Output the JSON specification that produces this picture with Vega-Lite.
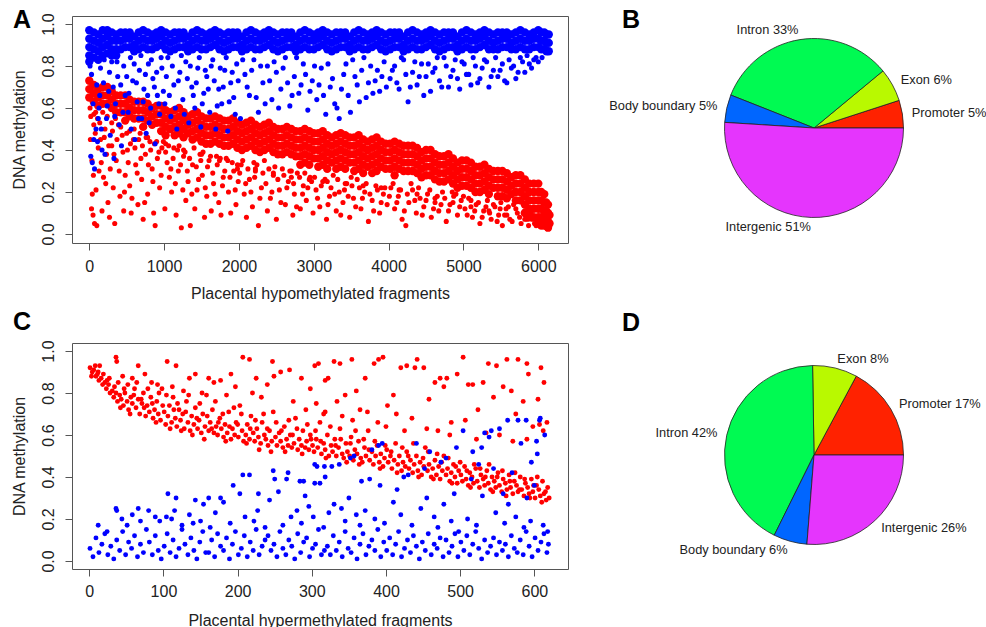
{
"$schema": "https://vega.github.io/schema/vega-lite/v6.json",
"background": "white",
"padding": {"left": 10, "top": 7, "right": 0, "bottom": 0},
"bounds": "flush",
"align": "each",
"columns": 2,
"spacing": {"row": 100, "column": 126},
"config": {
"font": "Liberation Sans",
"view": {"stroke": "#555", "strokeWidth": 1},
"axis": {"domain": false, "grid": false, "tickColor": "#555", "tickSize": 7, "tickWidth": 1, "labelFontSize": 16, "labelColor": "#222", "titleFontSize": 16, "titleFontWeight": "normal", "titleColor": "#222", "labelOverlap": false, "labelFlush": false, "labelBound": false},
"title": {"font": "Liberation Sans", "fontWeight": "bold", "fontSize": 25, "color": "#000", "anchor": "start", "frame": "group", "baseline": "alphabetic"}
},
"datasets": {
"aRc": [
{"x":0,"y":0.73},{"x":0,"y":0.69},{"x":0,"y":0.65},
{"x":120,"y":0.69},{"x":120,"y":0.65},{"x":120,"y":0.61},
{"x":240,"y":0.70},{"x":240,"y":0.66},{"x":240,"y":0.62},
{"x":360,"y":0.66},{"x":360,"y":0.62},{"x":360,"y":0.58},
{"x":480,"y":0.66},{"x":480,"y":0.62},{"x":480,"y":0.58},{"x":480,"y":0.54},
{"x":600,"y":0.63},{"x":600,"y":0.59},{"x":600,"y":0.55},
{"x":720,"y":0.63},{"x":720,"y":0.59},{"x":720,"y":0.55},{"x":720,"y":0.51},
{"x":840,"y":0.60},{"x":840,"y":0.56},{"x":840,"y":0.52},
{"x":960,"y":0.61},{"x":960,"y":0.57},{"x":960,"y":0.53},{"x":960,"y":0.49},
{"x":1080,"y":0.58},{"x":1080,"y":0.54},{"x":1080,"y":0.50},
{"x":1200,"y":0.60},{"x":1200,"y":0.56},{"x":1200,"y":0.52},{"x":1200,"y":0.48},
{"x":1320,"y":0.56},{"x":1320,"y":0.52},{"x":1320,"y":0.48},
{"x":1440,"y":0.58},{"x":1440,"y":0.54},{"x":1440,"y":0.50},{"x":1440,"y":0.46},
{"x":1560,"y":0.55},{"x":1560,"y":0.51},{"x":1560,"y":0.47},{"x":1560,"y":0.43},
{"x":1680,"y":0.56},{"x":1680,"y":0.52},{"x":1680,"y":0.48},{"x":1680,"y":0.44},
{"x":1800,"y":0.54},{"x":1800,"y":0.50},{"x":1800,"y":0.46},{"x":1800,"y":0.42},
{"x":1920,"y":0.55},{"x":1920,"y":0.51},{"x":1920,"y":0.47},{"x":1920,"y":0.43},
{"x":2040,"y":0.52},{"x":2040,"y":0.48},{"x":2040,"y":0.44},{"x":2040,"y":0.40},
{"x":2160,"y":0.54},{"x":2160,"y":0.50},{"x":2160,"y":0.46},{"x":2160,"y":0.42},
{"x":2280,"y":0.51},{"x":2280,"y":0.47},{"x":2280,"y":0.43},{"x":2280,"y":0.39},
{"x":2400,"y":0.53},{"x":2400,"y":0.49},{"x":2400,"y":0.45},{"x":2400,"y":0.41},
{"x":2520,"y":0.50},{"x":2520,"y":0.46},{"x":2520,"y":0.42},{"x":2520,"y":0.38},
{"x":2640,"y":0.51},{"x":2640,"y":0.47},{"x":2640,"y":0.43},{"x":2640,"y":0.39},
{"x":2760,"y":0.49},{"x":2760,"y":0.45},{"x":2760,"y":0.41},{"x":2760,"y":0.37},
{"x":2880,"y":0.50},{"x":2880,"y":0.46},{"x":2880,"y":0.42},{"x":2880,"y":0.38},{"x":2880,"y":0.34},
{"x":3000,"y":0.48},{"x":3000,"y":0.44},{"x":3000,"y":0.40},{"x":3000,"y":0.36},
{"x":3120,"y":0.49},{"x":3120,"y":0.45},{"x":3120,"y":0.41},{"x":3120,"y":0.37},{"x":3120,"y":0.33},
{"x":3240,"y":0.46},{"x":3240,"y":0.42},{"x":3240,"y":0.38},{"x":3240,"y":0.34},
{"x":3360,"y":0.48},{"x":3360,"y":0.44},{"x":3360,"y":0.40},{"x":3360,"y":0.36},{"x":3360,"y":0.32},
{"x":3480,"y":0.46},{"x":3480,"y":0.42},{"x":3480,"y":0.38},{"x":3480,"y":0.34},
{"x":3600,"y":0.47},{"x":3600,"y":0.43},{"x":3600,"y":0.39},{"x":3600,"y":0.35},{"x":3600,"y":0.31},
{"x":3720,"y":0.44},{"x":3720,"y":0.40},{"x":3720,"y":0.36},{"x":3720,"y":0.32},
{"x":3840,"y":0.46},{"x":3840,"y":0.42},{"x":3840,"y":0.38},{"x":3840,"y":0.34},{"x":3840,"y":0.30},
{"x":3960,"y":0.43},{"x":3960,"y":0.39},{"x":3960,"y":0.35},{"x":3960,"y":0.31},
{"x":4080,"y":0.44},{"x":4080,"y":0.40},{"x":4080,"y":0.36},{"x":4080,"y":0.32},{"x":4080,"y":0.28},
{"x":4200,"y":0.42},{"x":4200,"y":0.38},{"x":4200,"y":0.34},{"x":4200,"y":0.30},
{"x":4320,"y":0.42},{"x":4320,"y":0.38},{"x":4320,"y":0.34},{"x":4320,"y":0.30},
{"x":4440,"y":0.39},{"x":4440,"y":0.35},{"x":4440,"y":0.31},{"x":4440,"y":0.27},
{"x":4560,"y":0.40},{"x":4560,"y":0.36},{"x":4560,"y":0.32},{"x":4560,"y":0.28},
{"x":4680,"y":0.37},{"x":4680,"y":0.33},{"x":4680,"y":0.29},{"x":4680,"y":0.25},
{"x":4800,"y":0.38},{"x":4800,"y":0.34},{"x":4800,"y":0.30},{"x":4800,"y":0.26},
{"x":4920,"y":0.34},{"x":4920,"y":0.30},{"x":4920,"y":0.26},{"x":4920,"y":0.22},
{"x":5040,"y":0.35},{"x":5040,"y":0.31},{"x":5040,"y":0.27},{"x":5040,"y":0.23},
{"x":5160,"y":0.32},{"x":5160,"y":0.28},{"x":5160,"y":0.24},{"x":5160,"y":0.20},
{"x":5280,"y":0.33},{"x":5280,"y":0.29},{"x":5280,"y":0.25},{"x":5280,"y":0.21},
{"x":5400,"y":0.30},{"x":5400,"y":0.26},{"x":5400,"y":0.22},
{"x":5520,"y":0.30},{"x":5520,"y":0.26},{"x":5520,"y":0.22},{"x":5520,"y":0.18},
{"x":5640,"y":0.27},{"x":5640,"y":0.23},{"x":5640,"y":0.19},
{"x":5760,"y":0.28},{"x":5760,"y":0.24},{"x":5760,"y":0.20},{"x":5760,"y":0.16},
{"x":5880,"y":0.24},{"x":5880,"y":0.20},{"x":5880,"y":0.16},{"x":5880,"y":0.12},{"x":5880,"y":0.08},
{"x":6000,"y":0.24},{"x":6000,"y":0.20},{"x":6000,"y":0.16},{"x":6000,"y":0.12},{"x":6000,"y":0.08},{"x":6000,"y":0.05},
{"x":6080,"y":0.19},{"x":6080,"y":0.15},{"x":6080,"y":0.11},{"x":6080,"y":0.07},{"x":6080,"y":0.04},
{"x":6130,"y":0.14},{"x":6130,"y":0.10},{"x":6130,"y":0.06},{"x":6130,"y":0.03},
{"x":6150,"y":0.09},{"x":6150,"y":0.05},
{"x":60,"y":0.71},{"x":60,"y":0.67},{"x":60,"y":0.63},
{"x":180,"y":0.70},{"x":180,"y":0.66},{"x":180,"y":0.62},
{"x":300,"y":0.68},{"x":300,"y":0.64},{"x":300,"y":0.60},
{"x":420,"y":0.66},{"x":420,"y":0.62},{"x":420,"y":0.58},
{"x":540,"y":0.64},{"x":540,"y":0.60},{"x":540,"y":0.56},
{"x":660,"y":0.63},{"x":660,"y":0.59},{"x":660,"y":0.55},
{"x":780,"y":0.62},{"x":780,"y":0.58},{"x":780,"y":0.54},
{"x":900,"y":0.61},{"x":900,"y":0.57},{"x":900,"y":0.53},
{"x":1020,"y":0.59},{"x":1020,"y":0.55},{"x":1020,"y":0.51},{"x":1020,"y":0.47},
{"x":1140,"y":0.59},{"x":1140,"y":0.55},{"x":1140,"y":0.51},{"x":1140,"y":0.47},
{"x":1260,"y":0.58},{"x":1260,"y":0.54},{"x":1260,"y":0.50},{"x":1260,"y":0.46},
{"x":1380,"y":0.57},{"x":1380,"y":0.53},{"x":1380,"y":0.49},{"x":1380,"y":0.45},
{"x":1500,"y":0.56},{"x":1500,"y":0.52},{"x":1500,"y":0.48},{"x":1500,"y":0.44},
{"x":1620,"y":0.55},{"x":1620,"y":0.51},{"x":1620,"y":0.47},{"x":1620,"y":0.43},
{"x":1740,"y":0.55},{"x":1740,"y":0.51},{"x":1740,"y":0.47},{"x":1740,"y":0.43},
{"x":1860,"y":0.54},{"x":1860,"y":0.50},{"x":1860,"y":0.46},{"x":1860,"y":0.42},
{"x":1980,"y":0.53},{"x":1980,"y":0.49},{"x":1980,"y":0.45},{"x":1980,"y":0.41},
{"x":2100,"y":0.53},{"x":2100,"y":0.49},{"x":2100,"y":0.45},{"x":2100,"y":0.41},
{"x":2220,"y":0.52},{"x":2220,"y":0.48},{"x":2220,"y":0.44},{"x":2220,"y":0.40},
{"x":2340,"y":0.52},{"x":2340,"y":0.48},{"x":2340,"y":0.44},{"x":2340,"y":0.40},
{"x":2460,"y":0.51},{"x":2460,"y":0.47},{"x":2460,"y":0.43},{"x":2460,"y":0.39},
{"x":2580,"y":0.50},{"x":2580,"y":0.46},{"x":2580,"y":0.42},{"x":2580,"y":0.38},
{"x":2700,"y":0.50},{"x":2700,"y":0.46},{"x":2700,"y":0.42},{"x":2700,"y":0.38},
{"x":2820,"y":0.49},{"x":2820,"y":0.45},{"x":2820,"y":0.41},{"x":2820,"y":0.37},{"x":2820,"y":0.33},
{"x":2940,"y":0.49},{"x":2940,"y":0.45},{"x":2940,"y":0.41},{"x":2940,"y":0.37},{"x":2940,"y":0.33},
{"x":3060,"y":0.48},{"x":3060,"y":0.44},{"x":3060,"y":0.40},{"x":3060,"y":0.36},{"x":3060,"y":0.32},
{"x":3180,"y":0.47},{"x":3180,"y":0.43},{"x":3180,"y":0.39},{"x":3180,"y":0.35},{"x":3180,"y":0.31},
{"x":3300,"y":0.47},{"x":3300,"y":0.43},{"x":3300,"y":0.39},{"x":3300,"y":0.35},{"x":3300,"y":0.31},
{"x":3420,"y":0.47},{"x":3420,"y":0.43},{"x":3420,"y":0.39},{"x":3420,"y":0.35},{"x":3420,"y":0.31},
{"x":3540,"y":0.46},{"x":3540,"y":0.42},{"x":3540,"y":0.38},{"x":3540,"y":0.34},{"x":3540,"y":0.30},
{"x":3660,"y":0.45},{"x":3660,"y":0.41},{"x":3660,"y":0.37},{"x":3660,"y":0.33},{"x":3660,"y":0.29},
{"x":3780,"y":0.45},{"x":3780,"y":0.41},{"x":3780,"y":0.37},{"x":3780,"y":0.33},{"x":3780,"y":0.29},
{"x":3900,"y":0.44},{"x":3900,"y":0.40},{"x":3900,"y":0.36},{"x":3900,"y":0.32},
{"x":4020,"y":0.43},{"x":4020,"y":0.39},{"x":4020,"y":0.35},{"x":4020,"y":0.31},
{"x":4140,"y":0.43},{"x":4140,"y":0.39},{"x":4140,"y":0.35},{"x":4140,"y":0.31},
{"x":4260,"y":0.42},{"x":4260,"y":0.38},{"x":4260,"y":0.34},{"x":4260,"y":0.30},
{"x":4380,"y":0.41},{"x":4380,"y":0.37},{"x":4380,"y":0.33},{"x":4380,"y":0.29},
{"x":4500,"y":0.40},{"x":4500,"y":0.36},{"x":4500,"y":0.32},{"x":4500,"y":0.28},
{"x":4620,"y":0.38},{"x":4620,"y":0.34},{"x":4620,"y":0.30},{"x":4620,"y":0.26},
{"x":4740,"y":0.37},{"x":4740,"y":0.33},{"x":4740,"y":0.29},{"x":4740,"y":0.25},
{"x":4860,"y":0.36},{"x":4860,"y":0.32},{"x":4860,"y":0.28},{"x":4860,"y":0.24},
{"x":4980,"y":0.35},{"x":4980,"y":0.31},{"x":4980,"y":0.27},{"x":4980,"y":0.23},
{"x":5100,"y":0.34},{"x":5100,"y":0.30},{"x":5100,"y":0.26},{"x":5100,"y":0.22},
{"x":5220,"y":0.32},{"x":5220,"y":0.28},{"x":5220,"y":0.24},{"x":5220,"y":0.20},
{"x":5340,"y":0.31},{"x":5340,"y":0.27},{"x":5340,"y":0.23},{"x":5340,"y":0.19},
{"x":5460,"y":0.30},{"x":5460,"y":0.26},{"x":5460,"y":0.22},{"x":5460,"y":0.18},
{"x":5580,"y":0.29},{"x":5580,"y":0.25},{"x":5580,"y":0.21},{"x":5580,"y":0.17},
{"x":5700,"y":0.28},{"x":5700,"y":0.24},{"x":5700,"y":0.20},{"x":5700,"y":0.16},
{"x":5820,"y":0.26},{"x":5820,"y":0.22},{"x":5820,"y":0.18},{"x":5820,"y":0.14},{"x":5820,"y":0.10},
{"x":5940,"y":0.24},{"x":5940,"y":0.20},{"x":5940,"y":0.16},{"x":5940,"y":0.12},{"x":5940,"y":0.08},
{"x":6040,"y":0.20},{"x":6040,"y":0.16},{"x":6040,"y":0.12},{"x":6040,"y":0.08},{"x":6040,"y":0.04},
{"x":6105,"y":0.15},{"x":6105,"y":0.11},{"x":6105,"y":0.07},{"x":6105,"y":0.04}
],
"aRs": [
{"x":10,"y":0.6},{"x":20,"y":0.56},{"x":30,"y":0.12},{"x":40,"y":0.19},{"x":50,"y":0.09},{"x":60,"y":0.52},{"x":70,"y":0.05},{"x":80,"y":0.48},{"x":90,"y":0.21},{"x":100,"y":0.04},{"x":110,"y":0.55},{"x":130,"y":0.3},{"x":150,"y":0.45},{"x":170,"y":0.11},{"x":190,"y":0.27},{"x":210,"y":0.5},{"x":230,"y":0.38},{"x":250,"y":0.15},{"x":270,"y":0.08},{"x":300,"y":0.42},{"x":320,"y":0.22},{"x":340,"y":0.05},{"x":350,"y":0.55},{"x":360,"y":0.35},{"x":390,"y":0.52},{"x":410,"y":0.18},{"x":440,"y":0.47},{"x":460,"y":0.11},{"x":480,"y":0.28},{"x":510,"y":0.4},{"x":540,"y":0.23},{"x":560,"y":0.1},{"x":590,"y":0.45},{"x":600,"y":0.5},{"x":620,"y":0.33},{"x":650,"y":0.14},{"x":680,"y":0.48},{"x":700,"y":0.26},{"x":720,"y":0.07},{"x":750,"y":0.38},{"x":780,"y":0.19},{"x":810,"y":0.44},{"x":840,"y":0.31},{"x":860,"y":0.1},{"x":880,"y":0.04},{"x":900,"y":0.44},{"x":910,"y":0.36},{"x":940,"y":0.22},{"x":970,"y":0.41},
{"x":1010,"y":0.12},{"x":1040,"y":0.34},{"x":1070,"y":0.27},{"x":1100,"y":0.2},{"x":1130,"y":0.41},{"x":1160,"y":0.09},{"x":1190,"y":0.3},{"x":1200,"y":0.42},{"x":1230,"y":0.03},{"x":1260,"y":0.37},{"x":1290,"y":0.16},{"x":1320,"y":0.25},{"x":1350,"y":0.04},{"x":1380,"y":0.33},{"x":1410,"y":0.12},{"x":1440,"y":0.21},{"x":1480,"y":0.38},{"x":1510,"y":0.28},{"x":1540,"y":0.08},{"x":1570,"y":0.18},{"x":1600,"y":0.35},{"x":1630,"y":0.11},{"x":1660,"y":0.24},{"x":1700,"y":0.37},{"x":1730,"y":0.15},{"x":1760,"y":0.09},{"x":1790,"y":0.27},{"x":1830,"y":0.36},{"x":1860,"y":0.2},{"x":1890,"y":0.1},{"x":1930,"y":0.3},{"x":1960,"y":0.14},{"x":1990,"y":0.25},
{"x":2030,"y":0.33},{"x":2070,"y":0.19},{"x":2100,"y":0.08},{"x":2140,"y":0.26},{"x":2180,"y":0.13},{"x":2200,"y":0.34},{"x":2220,"y":0.3},{"x":2260,"y":0.04},{"x":2300,"y":0.22},{"x":2340,"y":0.35},{"x":2380,"y":0.11},{"x":2420,"y":0.17},{"x":2460,"y":0.28},{"x":2500,"y":0.07},{"x":2540,"y":0.21},{"x":2580,"y":0.31},{"x":2620,"y":0.14},{"x":2660,"y":0.25},{"x":2700,"y":0.3},{"x":2720,"y":0.09},{"x":2740,"y":0.19},{"x":2780,"y":0.29},{"x":2820,"y":0.12},{"x":2860,"y":0.23},{"x":2900,"y":0.16},{"x":2950,"y":0.27},{"x":2990,"y":0.1},
{"x":3030,"y":0.21},{"x":3080,"y":0.13},{"x":3120,"y":0.25},{"x":3170,"y":0.07},{"x":3210,"y":0.18},{"x":3260,"y":0.28},{"x":3300,"y":0.11},{"x":3340,"y":0.2},{"x":3390,"y":0.15},{"x":3440,"y":0.24},{"x":3480,"y":0.08},{"x":3500,"y":0.27},{"x":3530,"y":0.17},{"x":3580,"y":0.26},{"x":3630,"y":0.12},{"x":3680,"y":0.2},{"x":3730,"y":0.06},{"x":3780,"y":0.16},{"x":3830,"y":0.23},{"x":3880,"y":0.1},{"x":3930,"y":0.19},{"x":3980,"y":0.14},
{"x":4030,"y":0.22},{"x":4080,"y":0.12},{"x":4130,"y":0.18},{"x":4180,"y":0.07},{"x":4230,"y":0.04},{"x":4270,"y":0.15},{"x":4300,"y":0.24},{"x":4320,"y":0.21},{"x":4370,"y":0.1},{"x":4420,"y":0.17},{"x":4470,"y":0.13},{"x":4520,"y":0.19},{"x":4570,"y":0.08},{"x":4620,"y":0.15},{"x":4670,"y":0.11},{"x":4720,"y":0.2},{"x":4770,"y":0.06},{"x":4820,"y":0.14},{"x":4870,"y":0.18},{"x":4900,"y":0.19},{"x":4920,"y":0.09},{"x":4970,"y":0.16},
{"x":5020,"y":0.12},{"x":5070,"y":0.17},{"x":5120,"y":0.08},{"x":5170,"y":0.14},{"x":5220,"y":0.05},{"x":5270,"y":0.11},{"x":5320,"y":0.16},{"x":5370,"y":0.07},{"x":5420,"y":0.13},{"x":5470,"y":0.09},{"x":5500,"y":0.15},{"x":5520,"y":0.04},{"x":5570,"y":0.12},{"x":5620,"y":0.07},{"x":5670,"y":0.14},{"x":5720,"y":0.1},{"x":5770,"y":0.05},{"x":5820,"y":0.11},{"x":5870,"y":0.04},{"x":5920,"y":0.07},{"x":5970,"y":0.04},
{"x":60,"y":0.57},{"x":300,"y":0.53},{"x":540,"y":0.49},{"x":780,"y":0.46},{"x":1020,"y":0.43},{"x":1260,"y":0.4},{"x":1500,"y":0.38},{"x":1740,"y":0.35},{"x":1980,"y":0.33},{"x":2220,"y":0.31},{"x":2460,"y":0.29},{"x":2700,"y":0.27},{"x":2940,"y":0.26},{"x":3180,"y":0.25},{"x":3420,"y":0.24},{"x":3660,"y":0.23},{"x":3900,"y":0.22},{"x":4140,"y":0.21},{"x":4380,"y":0.19},{"x":4620,"y":0.17},{"x":4860,"y":0.15},{"x":5100,"y":0.13},{"x":5340,"y":0.11},{"x":5580,"y":0.09},{"x":5820,"y":0.07},
{"x":15,"y":0.45},{"x":35,"y":0.35},{"x":55,"y":0.28},{"x":85,"y":0.58},{"x":120,"y":0.41},{"x":140,"y":0.53},{"x":160,"y":0.34},{"x":180,"y":0.58},{"x":200,"y":0.46},{"x":220,"y":0.24},{"x":240,"y":0.56},{"x":260,"y":0.42},{"x":280,"y":0.31},{"x":310,"y":0.49},{"x":330,"y":0.38},{"x":370,"y":0.45},{"x":400,"y":0.3},{"x":420,"y":0.51},{"x":450,"y":0.39},{"x":470,"y":0.2},{"x":500,"y":0.48},{"x":520,"y":0.34},{"x":550,"y":0.43},{"x":570,"y":0.17},{"x":610,"y":0.41},{"x":640,"y":0.29},{"x":660,"y":0.45},{"x":690,"y":0.36},{"x":710,"y":0.42},{"x":740,"y":0.15},{"x":760,"y":0.46},{"x":790,"y":0.33},{"x":820,"y":0.4},{"x":850,"y":0.25},{"x":870,"y":0.43},{"x":930,"y":0.39},{"x":960,"y":0.28},{"x":990,"y":0.44},
{"x":1020,"y":0.39},{"x":1060,"y":0.42},{"x":1090,"y":0.31},{"x":1120,"y":0.36},{"x":1150,"y":0.24},{"x":1180,"y":0.4},{"x":1220,"y":0.33},{"x":1250,"y":0.21},{"x":1280,"y":0.39},{"x":1310,"y":0.3},{"x":1340,"y":0.36},{"x":1370,"y":0.19},{"x":1400,"y":0.41},{"x":1430,"y":0.32},{"x":1460,"y":0.26},{"x":1490,"y":0.35},{"x":1520,"y":0.39},{"x":1550,"y":0.22},{"x":1580,"y":0.32},{"x":1620,"y":0.37},{"x":1650,"y":0.29},{"x":1680,"y":0.19},{"x":1710,"y":0.33},{"x":1750,"y":0.36},{"x":1780,"y":0.23},{"x":1810,"y":0.3},{"x":1850,"y":0.35},{"x":1880,"y":0.27},{"x":1910,"y":0.34},{"x":1950,"y":0.21},{"x":1980,"y":0.31},
{"x":2010,"y":0.29},{"x":2050,"y":0.35},{"x":2090,"y":0.24},{"x":2120,"y":0.31},{"x":2160,"y":0.2},{"x":2210,"y":0.27},{"x":2240,"y":0.33},{"x":2280,"y":0.17},{"x":2320,"y":0.29},{"x":2360,"y":0.24},{"x":2400,"y":0.31},{"x":2440,"y":0.2},{"x":2480,"y":0.32},{"x":2520,"y":0.26},{"x":2560,"y":0.15},{"x":2600,"y":0.28},{"x":2640,"y":0.22},{"x":2680,"y":0.3},{"x":2730,"y":0.24},{"x":2770,"y":0.13},{"x":2810,"y":0.27},{"x":2850,"y":0.19},{"x":2880,"y":0.29},{"x":2920,"y":0.22},{"x":2970,"y":0.25},
{"x":3010,"y":0.27},{"x":3050,"y":0.17},{"x":3100,"y":0.23},{"x":3150,"y":0.26},{"x":3190,"y":0.14},{"x":3230,"y":0.22},{"x":3280,"y":0.19},{"x":3320,"y":0.26},{"x":3360,"y":0.09},{"x":3410,"y":0.21},{"x":3460,"y":0.18},{"x":3510,"y":0.23},{"x":3560,"y":0.13},{"x":3610,"y":0.22},{"x":3650,"y":0.17},{"x":3700,"y":0.24},{"x":3750,"y":0.19},{"x":3800,"y":0.11},{"x":3850,"y":0.21},{"x":3900,"y":0.15},{"x":3950,"y":0.22},
{"x":4010,"y":0.18},{"x":4060,"y":0.24},{"x":4110,"y":0.15},{"x":4160,"y":0.21},{"x":4210,"y":0.11},{"x":4250,"y":0.19},{"x":4350,"y":0.16},{"x":4400,"y":0.22},{"x":4450,"y":0.09},{"x":4500,"y":0.16},{"x":4550,"y":0.21},{"x":4600,"y":0.12},{"x":4650,"y":0.18},{"x":4700,"y":0.14},{"x":4750,"y":0.17},{"x":4800,"y":0.11},{"x":4850,"y":0.2},{"x":4950,"y":0.13},
{"x":5000,"y":0.18},{"x":5050,"y":0.09},{"x":5100,"y":0.16},{"x":5150,"y":0.11},{"x":5200,"y":0.15},{"x":5250,"y":0.08},{"x":5300,"y":0.13},{"x":5350,"y":0.1},{"x":5400,"y":0.14},{"x":5450,"y":0.06},{"x":5490,"y":0.12},{"x":5550,"y":0.09},{"x":5600,"y":0.13},{"x":5650,"y":0.06},{"x":5700,"y":0.12},{"x":5750,"y":0.08},{"x":5800,"y":0.1},{"x":5850,"y":0.07},{"x":5900,"y":0.1},{"x":5950,"y":0.05}
],
"aBc": [
{"x":0,"y":0.97},{"x":0,"y":0.93},{"x":0,"y":0.89},{"x":0,"y":0.85},{"x":0,"y":0.82},
{"x":120,"y":0.95},{"x":120,"y":0.91},{"x":120,"y":0.87},{"x":120,"y":0.83},
{"x":240,"y":0.97},{"x":240,"y":0.94},{"x":240,"y":0.90},{"x":240,"y":0.86},
{"x":360,"y":0.95},{"x":360,"y":0.92},{"x":360,"y":0.88},{"x":360,"y":0.85},
{"x":480,"y":0.96},{"x":480,"y":0.93},{"x":480,"y":0.89},
{"x":600,"y":0.94},{"x":600,"y":0.90},{"x":600,"y":0.87},
{"x":720,"y":0.97},{"x":720,"y":0.93},{"x":720,"y":0.89},
{"x":840,"y":0.95},{"x":840,"y":0.92},{"x":840,"y":0.88},
{"x":960,"y":0.97},{"x":960,"y":0.94},{"x":960,"y":0.90},
{"x":1080,"y":0.95},{"x":1080,"y":0.91},{"x":1080,"y":0.87},
{"x":1200,"y":0.96},{"x":1200,"y":0.93},{"x":1200,"y":0.89},
{"x":1320,"y":0.94},{"x":1320,"y":0.90},{"x":1320,"y":0.87},
{"x":1440,"y":0.97},{"x":1440,"y":0.93},{"x":1440,"y":0.89},
{"x":1560,"y":0.95},{"x":1560,"y":0.92},{"x":1560,"y":0.88},
{"x":1680,"y":0.97},{"x":1680,"y":0.94},{"x":1680,"y":0.90},
{"x":1800,"y":0.95},{"x":1800,"y":0.91},{"x":1800,"y":0.87},
{"x":1920,"y":0.96},{"x":1920,"y":0.93},{"x":1920,"y":0.89},
{"x":2040,"y":0.94},{"x":2040,"y":0.90},{"x":2040,"y":0.87},
{"x":2160,"y":0.97},{"x":2160,"y":0.93},{"x":2160,"y":0.89},
{"x":2280,"y":0.95},{"x":2280,"y":0.92},{"x":2280,"y":0.88},
{"x":2400,"y":0.97},{"x":2400,"y":0.94},{"x":2400,"y":0.90},
{"x":2520,"y":0.95},{"x":2520,"y":0.91},{"x":2520,"y":0.87},
{"x":2640,"y":0.96},{"x":2640,"y":0.93},{"x":2640,"y":0.89},
{"x":2760,"y":0.94},{"x":2760,"y":0.90},{"x":2760,"y":0.87},
{"x":2880,"y":0.97},{"x":2880,"y":0.93},{"x":2880,"y":0.89},
{"x":3000,"y":0.95},{"x":3000,"y":0.92},{"x":3000,"y":0.88},
{"x":3120,"y":0.97},{"x":3120,"y":0.94},{"x":3120,"y":0.90},
{"x":3240,"y":0.95},{"x":3240,"y":0.91},{"x":3240,"y":0.87},
{"x":3360,"y":0.96},{"x":3360,"y":0.93},{"x":3360,"y":0.89},
{"x":3480,"y":0.94},{"x":3480,"y":0.90},{"x":3480,"y":0.87},
{"x":3600,"y":0.97},{"x":3600,"y":0.93},{"x":3600,"y":0.89},
{"x":3720,"y":0.95},{"x":3720,"y":0.92},{"x":3720,"y":0.88},
{"x":3840,"y":0.97},{"x":3840,"y":0.94},{"x":3840,"y":0.90},
{"x":3960,"y":0.95},{"x":3960,"y":0.91},{"x":3960,"y":0.87},
{"x":4080,"y":0.96},{"x":4080,"y":0.93},{"x":4080,"y":0.89},
{"x":4200,"y":0.94},{"x":4200,"y":0.90},{"x":4200,"y":0.87},
{"x":4320,"y":0.97},{"x":4320,"y":0.93},{"x":4320,"y":0.89},
{"x":4440,"y":0.95},{"x":4440,"y":0.92},{"x":4440,"y":0.88},
{"x":4560,"y":0.97},{"x":4560,"y":0.94},{"x":4560,"y":0.90},
{"x":4680,"y":0.95},{"x":4680,"y":0.91},{"x":4680,"y":0.87},
{"x":4800,"y":0.96},{"x":4800,"y":0.93},{"x":4800,"y":0.89},
{"x":4920,"y":0.94},{"x":4920,"y":0.90},{"x":4920,"y":0.87},
{"x":5040,"y":0.97},{"x":5040,"y":0.93},{"x":5040,"y":0.89},
{"x":5160,"y":0.95},{"x":5160,"y":0.92},{"x":5160,"y":0.88},
{"x":5280,"y":0.97},{"x":5280,"y":0.94},{"x":5280,"y":0.90},
{"x":5400,"y":0.95},{"x":5400,"y":0.91},{"x":5400,"y":0.88},
{"x":5520,"y":0.96},{"x":5520,"y":0.93},{"x":5520,"y":0.89},
{"x":5640,"y":0.95},{"x":5640,"y":0.91},{"x":5640,"y":0.88},
{"x":5760,"y":0.97},{"x":5760,"y":0.93},{"x":5760,"y":0.89},
{"x":5880,"y":0.95},{"x":5880,"y":0.92},{"x":5880,"y":0.88},
{"x":6000,"y":0.97},{"x":6000,"y":0.93},{"x":6000,"y":0.89},
{"x":6080,"y":0.96},{"x":6080,"y":0.92},{"x":6080,"y":0.88},
{"x":6140,"y":0.95},{"x":6140,"y":0.91},{"x":6140,"y":0.87},
{"x":60,"y":0.96},{"x":60,"y":0.92},{"x":60,"y":0.88},{"x":60,"y":0.84},
{"x":180,"y":0.97},{"x":180,"y":0.93},{"x":180,"y":0.89},{"x":180,"y":0.85},
{"x":300,"y":0.96},{"x":300,"y":0.92},{"x":300,"y":0.88},{"x":300,"y":0.85},
{"x":420,"y":0.96},{"x":420,"y":0.92},{"x":420,"y":0.88},
{"x":540,"y":0.96},{"x":540,"y":0.93},{"x":540,"y":0.89},
{"x":660,"y":0.96},{"x":660,"y":0.92},{"x":660,"y":0.88},
{"x":780,"y":0.96},{"x":780,"y":0.92},{"x":780,"y":0.88},
{"x":900,"y":0.96},{"x":900,"y":0.93},{"x":900,"y":0.89},
{"x":1020,"y":0.96},{"x":1020,"y":0.92},{"x":1020,"y":0.88},
{"x":1140,"y":0.96},{"x":1140,"y":0.92},{"x":1140,"y":0.88},
{"x":1260,"y":0.96},{"x":1260,"y":0.93},{"x":1260,"y":0.89},
{"x":1380,"y":0.96},{"x":1380,"y":0.92},{"x":1380,"y":0.88},
{"x":1500,"y":0.96},{"x":1500,"y":0.92},{"x":1500,"y":0.88},
{"x":1620,"y":0.96},{"x":1620,"y":0.93},{"x":1620,"y":0.89},
{"x":1740,"y":0.96},{"x":1740,"y":0.92},{"x":1740,"y":0.88},
{"x":1860,"y":0.96},{"x":1860,"y":0.92},{"x":1860,"y":0.88},
{"x":1980,"y":0.96},{"x":1980,"y":0.93},{"x":1980,"y":0.89},
{"x":2100,"y":0.96},{"x":2100,"y":0.92},{"x":2100,"y":0.88},
{"x":2220,"y":0.96},{"x":2220,"y":0.92},{"x":2220,"y":0.88},
{"x":2340,"y":0.96},{"x":2340,"y":0.93},{"x":2340,"y":0.89},
{"x":2460,"y":0.96},{"x":2460,"y":0.92},{"x":2460,"y":0.88},
{"x":2580,"y":0.96},{"x":2580,"y":0.92},{"x":2580,"y":0.88},
{"x":2700,"y":0.96},{"x":2700,"y":0.93},{"x":2700,"y":0.89},
{"x":2820,"y":0.96},{"x":2820,"y":0.92},{"x":2820,"y":0.88},
{"x":2940,"y":0.96},{"x":2940,"y":0.92},{"x":2940,"y":0.88},
{"x":3060,"y":0.96},{"x":3060,"y":0.93},{"x":3060,"y":0.89},
{"x":3180,"y":0.96},{"x":3180,"y":0.92},{"x":3180,"y":0.88},
{"x":3300,"y":0.96},{"x":3300,"y":0.92},{"x":3300,"y":0.88},
{"x":3420,"y":0.96},{"x":3420,"y":0.93},{"x":3420,"y":0.89},
{"x":3540,"y":0.96},{"x":3540,"y":0.92},{"x":3540,"y":0.88},
{"x":3660,"y":0.96},{"x":3660,"y":0.92},{"x":3660,"y":0.88},
{"x":3780,"y":0.96},{"x":3780,"y":0.93},{"x":3780,"y":0.89},
{"x":3900,"y":0.96},{"x":3900,"y":0.92},{"x":3900,"y":0.88},
{"x":4020,"y":0.96},{"x":4020,"y":0.92},{"x":4020,"y":0.88},
{"x":4140,"y":0.96},{"x":4140,"y":0.93},{"x":4140,"y":0.89},
{"x":4260,"y":0.96},{"x":4260,"y":0.92},{"x":4260,"y":0.88},
{"x":4380,"y":0.96},{"x":4380,"y":0.92},{"x":4380,"y":0.88},
{"x":4500,"y":0.96},{"x":4500,"y":0.93},{"x":4500,"y":0.89},
{"x":4620,"y":0.96},{"x":4620,"y":0.92},{"x":4620,"y":0.88},
{"x":4740,"y":0.96},{"x":4740,"y":0.92},{"x":4740,"y":0.88},
{"x":4860,"y":0.96},{"x":4860,"y":0.93},{"x":4860,"y":0.89},
{"x":4980,"y":0.96},{"x":4980,"y":0.92},{"x":4980,"y":0.88},
{"x":5100,"y":0.96},{"x":5100,"y":0.92},{"x":5100,"y":0.88},
{"x":5220,"y":0.96},{"x":5220,"y":0.93},{"x":5220,"y":0.89},
{"x":5340,"y":0.96},{"x":5340,"y":0.92},{"x":5340,"y":0.88},
{"x":5460,"y":0.96},{"x":5460,"y":0.92},{"x":5460,"y":0.88},
{"x":5580,"y":0.96},{"x":5580,"y":0.93},{"x":5580,"y":0.89},
{"x":5700,"y":0.96},{"x":5700,"y":0.92},{"x":5700,"y":0.88},
{"x":5820,"y":0.96},{"x":5820,"y":0.92},{"x":5820,"y":0.88},
{"x":5940,"y":0.96},{"x":5940,"y":0.93},{"x":5940,"y":0.89},
{"x":6040,"y":0.96},{"x":6040,"y":0.92},{"x":6040,"y":0.88},
{"x":6110,"y":0.95},{"x":6110,"y":0.91},{"x":6110,"y":0.87}
],
"aBs": [
{"x":20,"y":0.37},{"x":40,"y":0.34},{"x":60,"y":0.45},{"x":70,"y":0.31},{"x":90,"y":0.5},{"x":110,"y":0.44},{"x":130,"y":0.6},{"x":150,"y":0.79},{"x":170,"y":0.4},{"x":190,"y":0.72},{"x":210,"y":0.38},{"x":230,"y":0.55},{"x":260,"y":0.68},{"x":280,"y":0.47},{"x":300,"y":0.82},{"x":330,"y":0.36},{"x":350,"y":0.62},{"x":380,"y":0.75},{"x":400,"y":0.52},{"x":430,"y":0.42},{"x":460,"y":0.8},{"x":480,"y":0.66},
{"x":520,"y":0.58},{"x":550,"y":0.84},{"x":580,"y":0.73},{"x":610,"y":0.45},{"x":640,"y":0.63},{"x":670,"y":0.78},{"x":700,"y":0.55},{"x":730,"y":0.69},{"x":760,"y":0.48},{"x":790,"y":0.81},{"x":820,"y":0.6},{"x":850,"y":0.74},{"x":880,"y":0.43},{"x":910,"y":0.66},{"x":940,"y":0.57},{"x":970,"y":0.79},
{"x":1010,"y":0.62},{"x":1050,"y":0.84},{"x":1090,"y":0.56},{"x":1130,"y":0.71},{"x":1170,"y":0.5},{"x":1210,"y":0.77},{"x":1250,"y":0.64},{"x":1290,"y":0.82},{"x":1330,"y":0.53},{"x":1370,"y":0.7},{"x":1410,"y":0.6},{"x":1450,"y":0.79},{"x":1490,"y":0.51},{"x":1530,"y":0.67},{"x":1570,"y":0.75},{"x":1610,"y":0.58},{"x":1650,"y":0.83},{"x":1690,"y":0.5},{"x":1730,"y":0.69},{"x":1770,"y":0.62},{"x":1810,"y":0.78},{"x":1850,"y":0.49},{"x":1890,"y":0.72},{"x":1930,"y":0.65},{"x":1970,"y":0.81},
{"x":2020,"y":0.55},{"x":2080,"y":0.76},{"x":2140,"y":0.66},{"x":2200,"y":0.83},{"x":2260,"y":0.58},{"x":2320,"y":0.72},{"x":2380,"y":0.8},{"x":2440,"y":0.64},{"x":2500,"y":0.77},{"x":2560,"y":0.69},{"x":2620,"y":0.84},{"x":2680,"y":0.61},{"x":2740,"y":0.75},{"x":2800,"y":0.67},{"x":2860,"y":0.81},{"x":2920,"y":0.59},{"x":2980,"y":0.73},
{"x":3040,"y":0.64},{"x":3100,"y":0.79},{"x":3160,"y":0.57},{"x":3220,"y":0.7},{"x":3280,"y":0.62},{"x":3340,"y":0.55},{"x":3400,"y":0.76},{"x":3460,"y":0.66},{"x":3520,"y":0.83},{"x":3580,"y":0.71},{"x":3640,"y":0.78},{"x":3700,"y":0.65},{"x":3760,"y":0.8},{"x":3820,"y":0.73},{"x":3880,"y":0.68},{"x":3940,"y":0.82},
{"x":4020,"y":0.74},{"x":4080,"y":0.8},{"x":4140,"y":0.69},{"x":4200,"y":0.83},{"x":4260,"y":0.63},{"x":4320,"y":0.77},{"x":4380,"y":0.71},{"x":4440,"y":0.81},{"x":4500,"y":0.75},{"x":4560,"y":0.68},{"x":4620,"y":0.79},{"x":4680,"y":0.73},{"x":4740,"y":0.84},{"x":4800,"y":0.7},{"x":4860,"y":0.78},{"x":4920,"y":0.74},{"x":4980,"y":0.82},
{"x":5040,"y":0.76},{"x":5100,"y":0.71},{"x":5160,"y":0.8},{"x":5220,"y":0.74},{"x":5280,"y":0.83},{"x":5340,"y":0.7},{"x":5400,"y":0.78},{"x":5460,"y":0.75},{"x":5520,"y":0.81},{"x":5580,"y":0.72},{"x":5640,"y":0.79},{"x":5700,"y":0.74},{"x":5760,"y":0.84},{"x":5820,"y":0.77},{"x":5880,"y":0.81},{"x":5940,"y":0.83},{"x":6000,"y":0.82},
{"x":10,"y":0.8},{"x":30,"y":0.76},{"x":50,"y":0.62},{"x":80,"y":0.84},{"x":100,"y":0.71},{"x":120,"y":0.55},{"x":140,"y":0.66},{"x":160,"y":0.5},{"x":200,"y":0.83},{"x":240,"y":0.61},{"x":270,"y":0.77},{"x":320,"y":0.7},{"x":340,"y":0.56},{"x":370,"y":0.82},{"x":420,"y":0.71},{"x":450,"y":0.58},{"x":500,"y":0.75},{"x":530,"y":0.67},{"x":560,"y":0.5},{"x":600,"y":0.81},{"x":630,"y":0.72},{"x":660,"y":0.55},{"x":690,"y":0.85},{"x":720,"y":0.63},{"x":750,"y":0.76},{"x":780,"y":0.66},{"x":800,"y":0.53},{"x":830,"y":0.83},{"x":870,"y":0.7},{"x":900,"y":0.77},{"x":930,"y":0.62},{"x":960,"y":0.84},{"x":990,"y":0.68},
{"x":1030,"y":0.75},{"x":1070,"y":0.66},{"x":1110,"y":0.8},{"x":1150,"y":0.6},{"x":1190,"y":0.73},{"x":1230,"y":0.85},{"x":1270,"y":0.57},{"x":1310,"y":0.74},{"x":1350,"y":0.8},{"x":1390,"y":0.66},{"x":1430,"y":0.72},{"x":1470,"y":0.84},{"x":1510,"y":0.62},{"x":1550,"y":0.78},{"x":1590,"y":0.69},{"x":1630,"y":0.8},{"x":1670,"y":0.73},{"x":1710,"y":0.61},{"x":1750,"y":0.79},{"x":1790,"y":0.7},{"x":1830,"y":0.84},{"x":1870,"y":0.63},{"x":1910,"y":0.77},{"x":1950,"y":0.57},{"x":1990,"y":0.73},
{"x":2050,"y":0.83},{"x":2110,"y":0.7},{"x":2170,"y":0.78},{"x":2230,"y":0.65},{"x":2290,"y":0.8},{"x":2350,"y":0.62},{"x":2410,"y":0.73},{"x":2470,"y":0.82},{"x":2530,"y":0.6},{"x":2590,"y":0.79},{"x":2650,"y":0.72},{"x":2710,"y":0.66},{"x":2770,"y":0.84},{"x":2830,"y":0.71},{"x":2890,"y":0.76},{"x":2950,"y":0.68},
{"x":3010,"y":0.8},{"x":3070,"y":0.71},{"x":3130,"y":0.66},{"x":3190,"y":0.81},{"x":3250,"y":0.74},{"x":3310,"y":0.6},{"x":3370,"y":0.69},{"x":3430,"y":0.81},{"x":3490,"y":0.58},{"x":3550,"y":0.75},{"x":3610,"y":0.63},{"x":3670,"y":0.84},{"x":3730,"y":0.72},{"x":3790,"y":0.67},{"x":3850,"y":0.78},{"x":3910,"y":0.75},{"x":3970,"y":0.7},
{"x":4050,"y":0.78},{"x":4110,"y":0.72},{"x":4170,"y":0.84},{"x":4230,"y":0.76},{"x":4290,"y":0.7},{"x":4350,"y":0.82},{"x":4410,"y":0.75},{"x":4470,"y":0.66},{"x":4530,"y":0.81},{"x":4590,"y":0.77},{"x":4650,"y":0.84},{"x":4710,"y":0.7},{"x":4770,"y":0.8},{"x":4830,"y":0.75},{"x":4890,"y":0.83},{"x":4950,"y":0.69},
{"x":5010,"y":0.81},{"x":5070,"y":0.76},{"x":5130,"y":0.84},{"x":5190,"y":0.72},{"x":5250,"y":0.79},{"x":5310,"y":0.82},{"x":5370,"y":0.75},{"x":5430,"y":0.84},{"x":5490,"y":0.78},{"x":5550,"y":0.73},{"x":5610,"y":0.83},{"x":5670,"y":0.8},{"x":5730,"y":0.77},{"x":5790,"y":0.82},{"x":5850,"y":0.85},{"x":5910,"y":0.79},{"x":5970,"y":0.84},{"x":6050,"y":0.84}
],
"cR": [
{"x":1,"y":0.92},{"x":4,"y":0.9},{"x":6,"y":0.91},{"x":9,"y":0.88},{"x":11,"y":0.89},{"x":13,"y":0.86},{"x":16,"y":0.87},{"x":18,"y":0.84},{"x":21,"y":0.85},{"x":23,"y":0.82},{"x":26,"y":0.84},{"x":28,"y":0.8},{"x":31,"y":0.81},{"x":33,"y":0.78},{"x":36,"y":0.8},{"x":38,"y":0.76},{"x":41,"y":0.79},{"x":43,"y":0.77},{"x":46,"y":0.74},{"x":48,"y":0.8},{"x":51,"y":0.76},{"x":53,"y":0.72},{"x":56,"y":0.78},{"x":58,"y":0.75},{"x":61,"y":0.82},{"x":63,"y":0.73},{"x":66,"y":0.77},{"x":68,"y":0.7},{"x":71,"y":0.75},{"x":73,"y":0.8},{"x":76,"y":0.69},{"x":78,"y":0.74},{"x":81,"y":0.71},{"x":83,"y":0.78},{"x":86,"y":0.68},{"x":88,"y":0.72},{"x":91,"y":0.76},{"x":93,"y":0.7},{"x":96,"y":0.67},{"x":98,"y":0.82},
{"x":101,"y":0.71},{"x":103,"y":0.65},{"x":106,"y":0.69},{"x":108,"y":0.74},{"x":111,"y":0.66},{"x":113,"y":0.78},{"x":116,"y":0.68},{"x":118,"y":0.64},{"x":121,"y":0.72},{"x":123,"y":0.67},{"x":126,"y":0.7},{"x":128,"y":0.63},{"x":131,"y":0.76},{"x":133,"y":0.66},{"x":136,"y":0.62},{"x":138,"y":0.69},{"x":141,"y":0.65},{"x":143,"y":0.73},{"x":146,"y":0.63},{"x":148,"y":0.67},{"x":151,"y":0.61},{"x":153,"y":0.7},{"x":156,"y":0.64},{"x":158,"y":0.79},{"x":161,"y":0.62},{"x":163,"y":0.66},{"x":166,"y":0.72},{"x":168,"y":0.61},{"x":171,"y":0.64},{"x":173,"y":0.6},{"x":176,"y":0.68},{"x":178,"y":0.63},{"x":181,"y":0.59},{"x":183,"y":0.65},{"x":186,"y":0.61},{"x":188,"y":0.71},{"x":191,"y":0.58},{"x":193,"y":0.63},{"x":196,"y":0.6},{"x":198,"y":0.66},
{"x":201,"y":0.59},{"x":203,"y":0.74},{"x":206,"y":0.62},{"x":208,"y":0.57},{"x":211,"y":0.6},{"x":213,"y":0.65},{"x":216,"y":0.58},{"x":218,"y":0.69},{"x":221,"y":0.61},{"x":223,"y":0.57},{"x":226,"y":0.63},{"x":228,"y":0.59},{"x":231,"y":0.56},{"x":233,"y":0.66},{"x":236,"y":0.6},{"x":238,"y":0.58},{"x":241,"y":0.55},{"x":243,"y":0.62},{"x":246,"y":0.57},{"x":248,"y":0.71},{"x":251,"y":0.59},{"x":253,"y":0.55},{"x":256,"y":0.61},{"x":258,"y":0.57},{"x":261,"y":0.54},{"x":263,"y":0.64},{"x":266,"y":0.58},{"x":268,"y":0.55},{"x":271,"y":0.6},{"x":273,"y":0.54},{"x":276,"y":0.56},{"x":278,"y":0.68},{"x":281,"y":0.53},{"x":283,"y":0.58},{"x":286,"y":0.55},{"x":288,"y":0.62},{"x":291,"y":0.54},{"x":293,"y":0.57},{"x":296,"y":0.53},{"x":298,"y":0.6},
{"x":301,"y":0.55},{"x":303,"y":0.52},{"x":306,"y":0.58},{"x":308,"y":0.54},{"x":311,"y":0.66},{"x":313,"y":0.51},{"x":316,"y":0.56},{"x":318,"y":0.53},{"x":321,"y":0.6},{"x":323,"y":0.5},{"x":326,"y":0.55},{"x":328,"y":0.52},{"x":331,"y":0.58},{"x":333,"y":0.5},{"x":336,"y":0.54},{"x":338,"y":0.63},{"x":341,"y":0.51},{"x":343,"y":0.49},{"x":346,"y":0.56},{"x":348,"y":0.52},{"x":351,"y":0.5},{"x":353,"y":0.59},{"x":356,"y":0.48},{"x":358,"y":0.53},{"x":361,"y":0.51},{"x":363,"y":0.57},{"x":366,"y":0.49},{"x":368,"y":0.47},{"x":371,"y":0.54},{"x":373,"y":0.5},{"x":376,"y":0.62},{"x":378,"y":0.48},{"x":381,"y":0.52},{"x":383,"y":0.46},{"x":386,"y":0.5},{"x":388,"y":0.55},{"x":391,"y":0.47},{"x":393,"y":0.51},{"x":396,"y":0.45},{"x":398,"y":0.49},
{"x":401,"y":0.53},{"x":403,"y":0.47},{"x":406,"y":0.5},{"x":408,"y":0.44},{"x":411,"y":0.48},{"x":413,"y":0.56},{"x":416,"y":0.46},{"x":418,"y":0.5},{"x":421,"y":0.43},{"x":423,"y":0.47},{"x":426,"y":0.45},{"x":428,"y":0.52},{"x":431,"y":0.44},{"x":433,"y":0.48},{"x":436,"y":0.42},{"x":438,"y":0.46},{"x":441,"y":0.5},{"x":443,"y":0.43},{"x":446,"y":0.47},{"x":448,"y":0.41},{"x":451,"y":0.45},{"x":453,"y":0.54},{"x":456,"y":0.43},{"x":458,"y":0.46},{"x":461,"y":0.4},{"x":463,"y":0.44},{"x":466,"y":0.48},{"x":468,"y":0.41},{"x":471,"y":0.45},{"x":473,"y":0.39},{"x":476,"y":0.43},{"x":478,"y":0.5},{"x":481,"y":0.41},{"x":483,"y":0.44},{"x":486,"y":0.38},{"x":488,"y":0.42},{"x":491,"y":0.46},{"x":493,"y":0.4},{"x":496,"y":0.37},{"x":498,"y":0.43},
{"x":501,"y":0.41},{"x":503,"y":0.38},{"x":506,"y":0.45},{"x":508,"y":0.39},{"x":511,"y":0.36},{"x":513,"y":0.42},{"x":516,"y":0.4},{"x":518,"y":0.37},{"x":521,"y":0.44},{"x":523,"y":0.38},{"x":526,"y":0.35},{"x":528,"y":0.41},{"x":531,"y":0.39},{"x":533,"y":0.36},{"x":536,"y":0.43},{"x":538,"y":0.37},{"x":541,"y":0.34},{"x":543,"y":0.4},{"x":546,"y":0.38},{"x":548,"y":0.35},{"x":551,"y":0.42},{"x":553,"y":0.36},{"x":556,"y":0.33},{"x":558,"y":0.39},{"x":561,"y":0.37},{"x":563,"y":0.34},{"x":566,"y":0.41},{"x":568,"y":0.35},{"x":571,"y":0.32},{"x":573,"y":0.38},{"x":576,"y":0.36},{"x":578,"y":0.33},{"x":581,"y":0.4},{"x":583,"y":0.34},{"x":586,"y":0.31},{"x":588,"y":0.37},{"x":591,"y":0.35},{"x":593,"y":0.32},{"x":596,"y":0.39},{"x":598,"y":0.33},{"x":601,"y":0.3},{"x":603,"y":0.36},{"x":606,"y":0.34},{"x":608,"y":0.31},{"x":611,"y":0.38},{"x":613,"y":0.32},{"x":616,"y":0.29},{"x":618,"y":0.35},{"x":620,"y":0.3},
{"x":14,"y":0.93},{"x":24,"y":0.86},{"x":36,"y":0.97},{"x":37,"y":0.95},{"x":45,"y":0.88},{"x":58,"y":0.87},{"x":66,"y":0.93},{"x":75,"y":0.89},{"x":84,"y":0.85},{"x":92,"y":0.84},{"x":105,"y":0.95},{"x":112,"y":0.83},{"x":117,"y":0.93},{"x":127,"y":0.81},{"x":135,"y":0.87},{"x":143,"y":0.89},{"x":152,"y":0.8},{"x":161,"y":0.87},{"x":168,"y":0.85},{"x":177,"y":0.86},{"x":185,"y":0.79},{"x":191,"y":0.89},{"x":197,"y":0.83},{"x":207,"y":0.97},{"x":216,"y":0.96},{"x":220,"y":0.8},{"x":225,"y":0.87},{"x":232,"y":0.78},{"x":240,"y":0.84},{"x":247,"y":0.95},{"x":249,"y":0.88},{"x":258,"y":0.9},{"x":270,"y":0.91},{"x":275,"y":0.76},{"x":286,"y":0.87},{"x":292,"y":0.72},{"x":298,"y":0.82},{"x":304,"y":0.93},{"x":309,"y":0.94},{"x":316,"y":0.7},{"x":318,"y":0.86},{"x":322,"y":0.87},{"x":330,"y":0.95},{"x":334,"y":0.76},{"x":338,"y":0.94},{"x":345,"y":0.79},{"x":354,"y":0.96},{"x":360,"y":0.81},{"x":365,"y":0.72},{"x":372,"y":0.87},{"x":384,"y":0.94},{"x":390,"y":0.96},{"x":396,"y":0.97},{"x":402,"y":0.74},{"x":410,"y":0.79},{"x":420,"y":0.92},{"x":428,"y":0.93},{"x":435,"y":0.68},{"x":439,"y":0.92},{"x":442,"y":0.96},{"x":451,"y":0.92},{"x":458,"y":0.77},{"x":466,"y":0.85},{"x":473,"y":0.87},{"x":478,"y":0.83},{"x":482,"y":0.87},{"x":488,"y":0.66},{"x":496,"y":0.89},{"x":504,"y":0.97},{"x":511,"y":0.84},{"x":517,"y":0.84},{"x":524,"y":0.72},{"x":531,"y":0.85},{"x":538,"y":0.94},{"x":545,"y":0.78},{"x":549,"y":0.93},{"x":558,"y":0.83},{"x":563,"y":0.96},{"x":569,"y":0.81},{"x":575,"y":0.7},{"x":578,"y":0.96},{"x":585,"y":0.76},{"x":590,"y":0.94},{"x":592,"y":0.89},{"x":598,"y":0.64},{"x":605,"y":0.77},{"x":609,"y":0.92},{"x":613,"y":0.85},{"x":617,"y":0.66},
{"x":306,"y":0.75},{"x":318,"y":0.71},{"x":341,"y":0.69},{"x":355,"y":0.67},{"x":375,"y":0.71},{"x":389,"y":0.66},{"x":400,"y":0.64},{"x":414,"y":0.7},{"x":425,"y":0.62},{"x":455,"y":0.63},{"x":470,"y":0.62},{"x":486,"y":0.6},{"x":507,"y":0.67},{"x":522,"y":0.58},{"x":535,"y":0.61},{"x":553,"y":0.6},{"x":571,"y":0.57},{"x":590,"y":0.58},{"x":607,"y":0.65},{"x":612,"y":0.62},
{"x":3,"y":0.88},{"x":8,"y":0.93},{"x":12,"y":0.9},{"x":19,"y":0.89},{"x":27,"y":0.87},{"x":34,"y":0.83},{"x":39,"y":0.85},{"x":42,"y":0.73},{"x":47,"y":0.82},{"x":52,"y":0.84},{"x":55,"y":0.7},{"x":60,"y":0.79},{"x":64,"y":0.85},{"x":70,"y":0.77},{"x":74,"y":0.73},{"x":79,"y":0.82},{"x":85,"y":0.75},{"x":90,"y":0.66},{"x":94,"y":0.8},{"x":99,"y":0.74},{"x":104,"y":0.79},{"x":109,"y":0.63},{"x":114,"y":0.72},{"x":119,"y":0.75},{"x":124,"y":0.62},{"x":130,"y":0.71},{"x":134,"y":0.79},{"x":139,"y":0.6},{"x":145,"y":0.68},{"x":149,"y":0.75},{"x":155,"y":0.58},{"x":159,"y":0.69},{"x":165,"y":0.63},{"x":170,"y":0.76},{"x":174,"y":0.66},{"x":180,"y":0.7},{"x":184,"y":0.57},{"x":189,"y":0.64},{"x":195,"y":0.73},{"x":200,"y":0.65},{"x":205,"y":0.7},{"x":212,"y":0.56},{"x":217,"y":0.63},{"x":224,"y":0.67},{"x":229,"y":0.53},{"x":235,"y":0.7},{"x":240,"y":0.63},{"x":245,"y":0.52},{"x":252,"y":0.66},{"x":259,"y":0.62},{"x":264,"y":0.52},{"x":269,"y":0.67},{"x":274,"y":0.6},{"x":280,"y":0.63},{"x":287,"y":0.51},{"x":294,"y":0.65},{"x":299,"y":0.58},{"x":305,"y":0.62},{"x":312,"y":0.57},{"x":319,"y":0.49},{"x":325,"y":0.64},{"x":332,"y":0.55},{"x":339,"y":0.58},{"x":347,"y":0.47},{"x":352,"y":0.56},{"x":359,"y":0.62},{"x":364,"y":0.46},{"x":370,"y":0.58},{"x":377,"y":0.53},{"x":385,"y":0.57},{"x":392,"y":0.44},{"x":399,"y":0.55},{"x":407,"y":0.52},{"x":415,"y":0.42},{"x":422,"y":0.54},{"x":430,"y":0.5},{"x":437,"y":0.56},{"x":444,"y":0.4},{"x":450,"y":0.49},{"x":457,"y":0.52},{"x":464,"y":0.39},{"x":469,"y":0.51},{"x":475,"y":0.47},{"x":484,"y":0.49},{"x":489,"y":0.37},{"x":494,"y":0.45},{"x":500,"y":0.47},{"x":509,"y":0.43},{"x":514,"y":0.35},{"x":519,"y":0.46},{"x":527,"y":0.44},{"x":534,"y":0.4},{"x":539,"y":0.46},{"x":544,"y":0.33},{"x":550,"y":0.4},{"x":557,"y":0.43},{"x":562,"y":0.31},{"x":567,"y":0.38},{"x":574,"y":0.42},{"x":580,"y":0.34},{"x":587,"y":0.39},{"x":594,"y":0.3},{"x":599,"y":0.36},{"x":604,"y":0.4},{"x":610,"y":0.28},{"x":615,"y":0.33}
],
"cB": [
{"x":1,"y":0.06},{"x":5,"y":0.02},{"x":9,"y":0.11},{"x":13,"y":0.04},{"x":17,"y":0.08},{"x":21,"y":0.13},{"x":25,"y":0.03},{"x":29,"y":0.07},{"x":33,"y":0.01},{"x":37,"y":0.1},{"x":41,"y":0.05},{"x":45,"y":0.14},{"x":49,"y":0.03},{"x":53,"y":0.09},{"x":57,"y":0.06},{"x":61,"y":0.12},{"x":65,"y":0.02},{"x":69,"y":0.08},{"x":73,"y":0.04},{"x":77,"y":0.15},
{"x":81,"y":0.09},{"x":85,"y":0.03},{"x":89,"y":0.12},{"x":93,"y":0.05},{"x":97,"y":0.01},{"x":101,"y":0.07},{"x":105,"y":0.13},{"x":109,"y":0.04},{"x":113,"y":0.1},{"x":117,"y":0.02},{"x":121,"y":0.06},{"x":125,"y":0.15},{"x":129,"y":0.08},{"x":133,"y":0.03},{"x":137,"y":0.11},{"x":141,"y":0.05},{"x":145,"y":0.01},{"x":149,"y":0.09},{"x":153,"y":0.14},{"x":157,"y":0.04},
{"x":161,"y":0.04},{"x":165,"y":0.1},{"x":169,"y":0.02},{"x":173,"y":0.13},{"x":177,"y":0.07},{"x":181,"y":0.05},{"x":185,"y":0.11},{"x":189,"y":0.01},{"x":193,"y":0.08},{"x":197,"y":0.14},{"x":201,"y":0.03},{"x":205,"y":0.06},{"x":209,"y":0.12},{"x":213,"y":0.02},{"x":217,"y":0.09},{"x":221,"y":0.05},{"x":225,"y":0.15},{"x":229,"y":0.03},{"x":233,"y":0.07},{"x":237,"y":0.1},
{"x":241,"y":0.12},{"x":245,"y":0.05},{"x":249,"y":0.08},{"x":253,"y":0.02},{"x":257,"y":0.14},{"x":261,"y":0.06},{"x":265,"y":0.03},{"x":269,"y":0.1},{"x":273,"y":0.07},{"x":277,"y":0.01},{"x":281,"y":0.13},{"x":285,"y":0.04},{"x":289,"y":0.09},{"x":293,"y":0.11},{"x":297,"y":0.02},{"x":301,"y":0.06},{"x":305,"y":0.08},{"x":309,"y":0.15},{"x":313,"y":0.03},{"x":317,"y":0.05},
{"x":321,"y":0.07},{"x":325,"y":0.03},{"x":329,"y":0.12},{"x":333,"y":0.05},{"x":337,"y":0.09},{"x":341,"y":0.02},{"x":345,"y":0.14},{"x":349,"y":0.06},{"x":353,"y":0.04},{"x":357,"y":0.11},{"x":361,"y":0.01},{"x":365,"y":0.08},{"x":369,"y":0.13},{"x":373,"y":0.03},{"x":377,"y":0.07},{"x":381,"y":0.1},{"x":385,"y":0.05},{"x":389,"y":0.15},{"x":393,"y":0.02},{"x":397,"y":0.09},
{"x":401,"y":0.05},{"x":405,"y":0.11},{"x":409,"y":0.03},{"x":413,"y":0.08},{"x":417,"y":0.14},{"x":421,"y":0.02},{"x":425,"y":0.06},{"x":429,"y":0.1},{"x":433,"y":0.04},{"x":437,"y":0.12},{"x":441,"y":0.07},{"x":445,"y":0.01},{"x":449,"y":0.09},{"x":453,"y":0.05},{"x":457,"y":0.13},{"x":461,"y":0.03},{"x":465,"y":0.08},{"x":469,"y":0.06},{"x":473,"y":0.11},{"x":477,"y":0.02},
{"x":481,"y":0.1},{"x":485,"y":0.04},{"x":489,"y":0.07},{"x":493,"y":0.13},{"x":497,"y":0.02},{"x":501,"y":0.09},{"x":505,"y":0.05},{"x":509,"y":0.12},{"x":513,"y":0.03},{"x":517,"y":0.08},{"x":521,"y":0.14},{"x":525,"y":0.06},{"x":529,"y":0.01},{"x":533,"y":0.1},{"x":537,"y":0.04},{"x":541,"y":0.07},{"x":545,"y":0.11},{"x":549,"y":0.03},{"x":553,"y":0.09},{"x":557,"y":0.05},
{"x":561,"y":0.08},{"x":565,"y":0.02},{"x":569,"y":0.12},{"x":573,"y":0.06},{"x":577,"y":0.04},{"x":581,"y":0.1},{"x":585,"y":0.03},{"x":589,"y":0.14},{"x":593,"y":0.07},{"x":597,"y":0.02},{"x":601,"y":0.11},{"x":605,"y":0.05},{"x":609,"y":0.09},{"x":613,"y":0.13},{"x":617,"y":0.04},{"x":619,"y":0.08},
{"x":36,"y":0.25},{"x":37,"y":0.24},{"x":66,"y":0.25},{"x":80,"y":0.24},{"x":24,"y":0.14},{"x":51,"y":0.17},{"x":69,"y":0.19},{"x":89,"y":0.21},{"x":12,"y":0.17},{"x":44,"y":0.2},{"x":58,"y":0.22},{"x":95,"y":0.19},
{"x":104,"y":0.21},{"x":106,"y":0.32},{"x":117,"y":0.3},{"x":115,"y":0.24},{"x":143,"y":0.29},{"x":154,"y":0.27},{"x":161,"y":0.3},{"x":177,"y":0.3},{"x":181,"y":0.28},{"x":194,"y":0.36},{"x":111,"y":0.2},{"x":125,"y":0.17},{"x":140,"y":0.18},{"x":163,"y":0.16},{"x":190,"y":0.18},{"x":135,"y":0.22},{"x":170,"y":0.23},{"x":150,"y":0.19},
{"x":203,"y":0.32},{"x":207,"y":0.41},{"x":216,"y":0.41},{"x":228,"y":0.32},{"x":227,"y":0.24},{"x":243,"y":0.29},{"x":248,"y":0.43},{"x":250,"y":0.39},{"x":255,"y":0.33},{"x":266,"y":0.39},{"x":268,"y":0.42},{"x":280,"y":0.24},{"x":284,"y":0.38},{"x":291,"y":0.31},{"x":210,"y":0.21},{"x":237,"y":0.16},{"x":261,"y":0.17},{"x":286,"y":0.18},{"x":222,"y":0.19},{"x":272,"y":0.21},{"x":296,"y":0.26},
{"x":289,"y":0.38},{"x":304,"y":0.37},{"x":304,"y":0.46},{"x":307,"y":0.45},{"x":311,"y":0.37},{"x":318,"y":0.4},{"x":302,"y":0.21},{"x":316,"y":0.16},{"x":317,"y":0.45},{"x":327,"y":0.45},{"x":337,"y":0.46},{"x":352,"y":0.49},{"x":357,"y":0.5},{"x":367,"y":0.38},{"x":378,"y":0.39},{"x":381,"y":0.53},{"x":390,"y":0.55},{"x":392,"y":0.36},{"x":395,"y":0.56},{"x":330,"y":0.27},{"x":340,"y":0.25},{"x":350,"y":0.3},{"x":360,"y":0.22},{"x":372,"y":0.24},{"x":385,"y":0.2},{"x":398,"y":0.18},{"x":345,"y":0.19},{"x":323,"y":0.23},{"x":365,"y":0.17},
{"x":424,"y":0.4},{"x":430,"y":0.41},{"x":441,"y":0.56},{"x":459,"y":0.52},{"x":481,"y":0.49},{"x":495,"y":0.54},{"x":410,"y":0.28},{"x":420,"y":0.22},{"x":435,"y":0.17},{"x":447,"y":0.25},{"x":455,"y":0.3},{"x":465,"y":0.21},{"x":470,"y":0.16},{"x":478,"y":0.27},{"x":488,"y":0.19},{"x":498,"y":0.14},{"x":415,"y":0.34},{"x":452,"y":0.44},{"x":474,"y":0.47},{"x":492,"y":0.32},
{"x":504,"y":0.62},{"x":517,"y":0.52},{"x":529,"y":0.54},{"x":533,"y":0.61},{"x":539,"y":0.59},{"x":542,"y":0.62},{"x":553,"y":0.63},{"x":564,"y":0.67},{"x":578,"y":0.67},{"x":589,"y":0.67},{"x":607,"y":0.67},{"x":608,"y":0.68},{"x":604,"y":0.51},{"x":614,"y":0.6},{"x":603,"y":0.57},{"x":545,"y":0.44},{"x":558,"y":0.32},{"x":530,"y":0.31},{"x":510,"y":0.2},{"x":522,"y":0.17},{"x":548,"y":0.23},{"x":560,"y":0.18},{"x":575,"y":0.21},{"x":586,"y":0.16},{"x":595,"y":0.19},{"x":612,"y":0.17},{"x":618,"y":0.14},{"x":570,"y":0.42},{"x":582,"y":0.56},{"x":596,"y":0.47},{"x":515,"y":0.39},{"x":525,"y":0.46},{"x":600,"y":0.36},{"x":565,"y":0.27},{"x":590,"y":0.3}
],
"pieB": [
{"c":"Promoter","v":5,"o":1,"lab":"Promoter 5%"},
{"c":"Exon","v":6,"o":2,"lab":"Exon 6%"},
{"c":"Intron","v":33,"o":3,"lab":"Intron 33%"},
{"c":"Body boundary","v":5,"o":4,"lab":"Body boundary 5%"},
{"c":"Intergenic","v":51,"o":5,"lab":"Intergenic 51%"}
],
"pieD": [
{"c":"Promoter","v":17,"o":1,"lab":"Promoter 17%"},
{"c":"Exon","v":8,"o":2,"lab":"Exon 8%"},
{"c":"Intron","v":42,"o":3,"lab":"Intron 42%"},
{"c":"Body boundary","v":6,"o":4,"lab":"Body boundary 6%"},
{"c":"Intergenic","v":26,"o":5,"lab":"Intergenic 26%"}
]
},
"concat": [
{
"width": 496, "height": 227,
"title": {"text": "A", "offset": -20, "dx": -59},
"encoding": {
"x": {"field": "x", "type": "quantitative", "scale": {"domain": [-231, 6397], "nice": false, "zero": false},
"axis": {"values": [0,1000,2000,3000,4000,5000,6000], "format": "d", "labelBaseline": "alphabetic", "labelPadding": 21, "titleX": 248, "titleY": 55, "titleBaseline": "alphabetic"},
"title": "Placental hypomethylated fragments"},
"y": {"field": "y", "type": "quantitative", "scale": {"domain": [-0.0429, 1.0381], "nice": false, "zero": false},
"axis": {"values": [0,0.2,0.4,0.6,0.8,1], "format": ".1f", "labelAngle": -90, "labelAlign": "center", "labelBaseline": "alphabetic", "labelPadding": 12, "titleX": -48, "titleY": 113.5, "titleBaseline": "alphabetic"},
"title": "DNA methylation"}
},
"layer": [
{"data": {"name": "aRc"}, "mark": {"type": "circle", "color": "#ff0000", "size": 70, "opacity": 1}},
{"data": {"name": "aRs"}, "mark": {"type": "circle", "color": "#ff0000", "size": 26, "opacity": 1}},
{"data": {"name": "aBc"}, "mark": {"type": "circle", "color": "#0000ff", "size": 70, "opacity": 1}},
{"data": {"name": "aBs"}, "mark": {"type": "circle", "color": "#0000ff", "size": 26, "opacity": 1}}
]
},
{
"width": 240, "height": 224,
"view": {"stroke": null},
"title": {"text": "B", "offset": -17, "dx": -72},
"data": {"name": "pieB"},
"encoding": {
"theta": {"field": "v", "type": "quantitative", "stack": true, "scale": {"range": [1.5708, 7.854]}},
"order": {"field": "o", "sort": "descending"}
},
"layer": [
{"mark": {"type": "arc", "outerRadius": 89.5, "stroke": "#222", "strokeWidth": 0.8},
"encoding": {"color": {"field": "c", "type": "nominal", "legend": null, "scale": {"domain": ["Promoter","Exon","Intron","Body boundary","Intergenic"], "range": ["#ff2200","#b9f900","#00fa52","#0066ff","#e535fd"]}}}},
{"mark": {"type": "text", "radius": 99, "fontSize": 12.8, "baseline": "middle", "color": "#222", "align": {"expr": "datum.c == 'Promoter' || datum.c == 'Exon' ? 'left' : 'right'"}},
"encoding": {"text": {"field": "lab"}}}
]
},
{
"width": 496, "height": 226,
"title": {"text": "C", "offset": 4.5, "dx": -59},
"encoding": {
"x": {"field": "x", "type": "quantitative", "scale": {"domain": [-23.3, 645.4], "nice": false, "zero": false},
"axis": {"values": [0,100,200,300,400,500,600], "format": "d", "labelBaseline": "alphabetic", "labelPadding": 20, "titleX": 248, "titleY": 56, "titleBaseline": "alphabetic"},
"title": "Placental hypermethylated fragments"},
"y": {"field": "y", "type": "quantitative", "scale": {"domain": [-0.0381, 1.0381], "nice": false, "zero": false},
"axis": {"values": [0,0.2,0.4,0.6,0.8,1], "format": ".1f", "labelAngle": -90, "labelAlign": "center", "labelBaseline": "alphabetic", "labelPadding": 12, "titleX": -48, "titleY": 113, "titleBaseline": "alphabetic"},
"title": "DNA methylation"}
},
"layer": [
{"data": {"name": "cR"}, "mark": {"type": "circle", "color": "#ff0000", "size": 24, "opacity": 1}},
{"data": {"name": "cB"}, "mark": {"type": "circle", "color": "#0000ff", "size": 24, "opacity": 1}}
]
},
{
"width": 240, "height": 224,
"view": {"stroke": null},
"title": {"text": "D", "offset": 7, "dx": -72},
"data": {"name": "pieD"},
"encoding": {
"theta": {"field": "v", "type": "quantitative", "stack": true, "scale": {"range": [1.5708, 7.854]}},
"order": {"field": "o", "sort": "descending"}
},
"layer": [
{"mark": {"type": "arc", "outerRadius": 89.5, "stroke": "#222", "strokeWidth": 0.8},
"encoding": {"color": {"field": "c", "type": "nominal", "legend": null, "scale": {"domain": ["Promoter","Exon","Intron","Body boundary","Intergenic"], "range": ["#ff2200","#b9f900","#00fa52","#0066ff","#e535fd"]}}}},
{"mark": {"type": "text", "radius": 99, "fontSize": 12.8, "baseline": "middle", "color": "#222", "align": {"expr": "datum.c == 'Intron' || datum.c == 'Body boundary' ? 'right' : 'left'"}},
"encoding": {"text": {"field": "lab"}}}
]
}
]
}
